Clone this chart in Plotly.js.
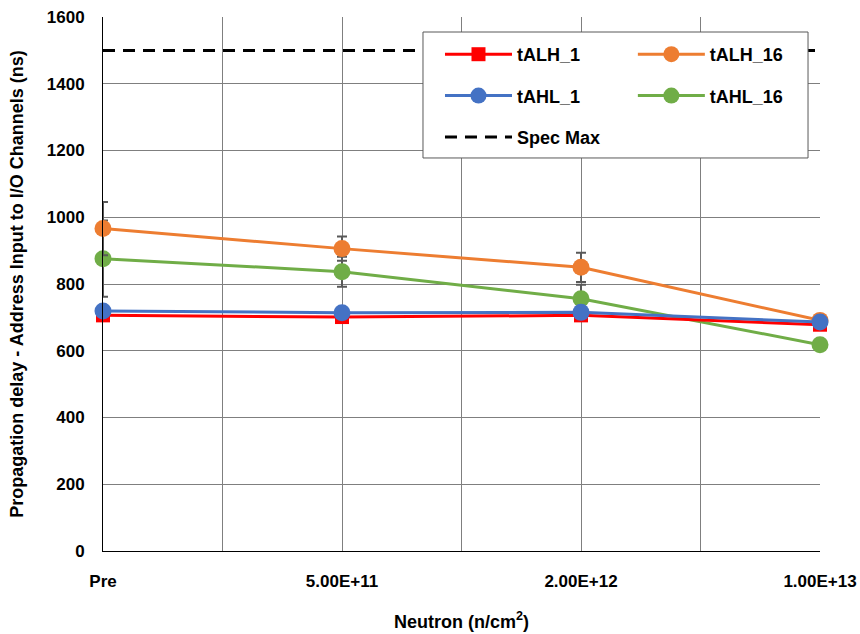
<!DOCTYPE html>
<html>
<head>
<meta charset="utf-8">
<script src="https://cdn.plot.ly/plotly-3.0.1.min.js"></script>
<style>html,body{margin:0;padding:0;background:#fff;}#chart{width:860px;height:634px;}</style>
</head>
<body>
<div id="chart"></div>
<script>
const categories = ['Pre', '5.00E+11', '2.00E+12', '1.00E+13'];
const tALH_1 = [706, 701, 706, 678];
const tALH_16 = [966, 906, 850, 691];
const tAHL_1 = [719, 714, 715, 686];
const tAHL_16 = [876, 837, 756, 618];
const tALH_16_err = [80, 36, 44, 0];
const tAHL_16_err = [114, 45, 42, 0];
const specMax = 1500;
const yTicks = [0, 200, 400, 600, 800, 1000, 1200, 1400, 1600];

const xIdx = categories.map((c, i) => i);
const xMinor = xIdx.slice(0, -1).map(v => v + 0.5);
const FONT = 'Liberation Sans, Arial, sans-serif';

const traces = [
  {
    name: 'Spec Max', x: [xIdx[0], xIdx[xIdx.length - 1]], y: [specMax, specMax],
    mode: 'lines', line: {color: '#000000', width: 3, dash: '12px,8px'},
    legend: 'legend', legendgroup: 'g5', legendrank: 3, cliponaxis: false
  },
  {
    name: 'tAHL_16', x: xIdx, y: tAHL_16, mode: 'lines+markers',
    line: {color: '#70AD47', width: 3}, marker: {color: '#70AD47', size: 17, symbol: 'circle'},
    error_y: {type: 'data', array: tAHL_16_err, color: '#595959', thickness: 2, width: 5},
    legend: 'legend2', legendgroup: 'g4', legendrank: 2, cliponaxis: false
  },
  {
    name: 'tALH_16', x: xIdx, y: tALH_16, mode: 'lines+markers',
    line: {color: '#ED7D31', width: 3}, marker: {color: '#ED7D31', size: 17, symbol: 'circle'},
    error_y: {type: 'data', array: tALH_16_err, color: '#595959', thickness: 2, width: 5},
    legend: 'legend2', legendgroup: 'g2', legendrank: 1, cliponaxis: false
  },
  {
    name: 'tALH_1', x: xIdx, y: tALH_1, mode: 'lines+markers',
    line: {color: '#FF0000', width: 3}, marker: {color: '#FF0000', size: 14, symbol: 'square'},
    legend: 'legend', legendgroup: 'g1', legendrank: 1, cliponaxis: false
  },
  {
    name: 'tAHL_1', x: xIdx, y: tAHL_1, mode: 'lines+markers',
    line: {color: '#4472C4', width: 3}, marker: {color: '#4472C4', size: 17, symbol: 'circle'},
    legend: 'legend', legendgroup: 'g3', legendrank: 2, cliponaxis: false
  }
];

const legendCommon = {
  orientation: 'v', xanchor: 'left', yanchor: 'top', y: 0.9644,
  bgcolor: 'rgba(0,0,0,0)', borderwidth: 0,
  font: {family: FONT, size: 18, color: '#000000', weight: 'bold'},
  itemwidth: 67, traceorder: 'grouped', tracegroupgap: 15
};

const layout = {
  width: 860, height: 634,
  margin: {l: 103, r: 40, t: 17, b: 83, pad: 0},
  paper_bgcolor: '#ffffff', plot_bgcolor: '#ffffff',
  font: {family: FONT, size: 17, color: '#000000'},
  showlegend: true,
  legend: Object.assign({}, legendCommon, {x: 0.470}),
  legend2: Object.assign({}, legendCommon, {x: 0.739}),
  shapes: [{
    type: 'rect', xref: 'paper', yref: 'paper',
    x0: 0.4463, x1: 0.9833, y0: 0.7360, y1: 0.9719,
    fillcolor: '#ffffff', line: {color: '#595959', width: 1}, layer: 'above'
  }],
  xaxis: {
    range: [0, 3], tickmode: 'array', tickvals: xIdx, ticktext: categories,
    showgrid: true, gridcolor: '#7f7f7f', gridwidth: 1,
    minor: {tickmode: 'array', tickvals: xMinor, showgrid: true, gridcolor: '#7f7f7f', gridwidth: 1, ticks: ''},
    showline: true, linecolor: '#000000', linewidth: 1, mirror: false,
    zeroline: false, ticks: '', ticklabelstandoff: 15,
    tickfont: {family: FONT, size: 17, weight: 'bold'},
    title: {text: 'Neutron (n/cm<sup>2</sup>)', font: {family: FONT, size: 18, weight: 'bold'}, standoff: 24},
    automargin: false
  },
  yaxis: {
    range: [0, 1600], tickmode: 'array', tickvals: yTicks,
    showgrid: true, gridcolor: '#7f7f7f', gridwidth: 1,
    showline: true, linecolor: '#000000', linewidth: 1,
    zeroline: false, ticks: '', ticklabelstandoff: 14,
    tickfont: {family: FONT, size: 17, weight: 'bold'},
    title: {text: 'Propagation delay - Address Input to I/O Channels (ns)', font: {family: FONT, size: 18, weight: 'bold'}, standoff: 18},
    automargin: false
  }
};

Plotly.newPlot('chart', traces, layout, {displayModeBar: false, staticPlot: true});
</script>
</body>
</html>
